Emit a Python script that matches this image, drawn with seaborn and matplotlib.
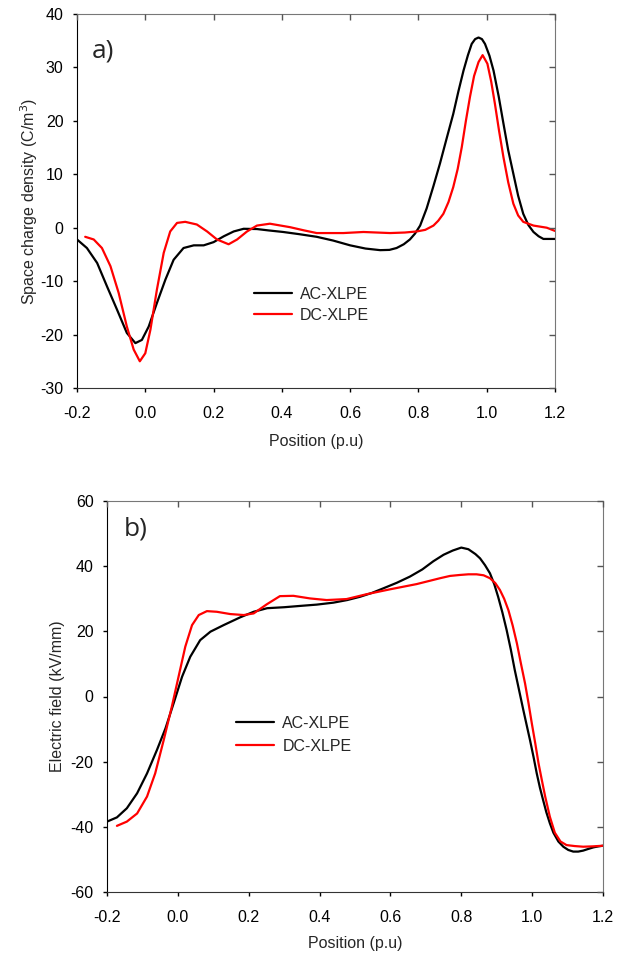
import pandas as pd
import matplotlib
matplotlib.use("Agg")
import matplotlib.pyplot as plt
import seaborn as sns

# --- a) space charge density (C/m^3) vs position (p.u) ---
ac_rho_x = [-0.2, -0.171, -0.141, -0.112, -0.083, -0.054, -0.029, -0.01, 0.01, 0.034, 0.059,
            0.083, 0.112, 0.142, 0.171, 0.2, 0.23, 0.259, 0.288, 0.327, 0.36, 0.404, 0.45,
            0.502, 0.55, 0.6, 0.645, 0.688, 0.715, 0.736, 0.757, 0.775, 0.79, 0.805, 0.824,
            0.844, 0.863, 0.883, 0.902, 0.917, 0.932, 0.945, 0.956, 0.966, 0.976, 0.986,
            0.995, 1.008, 1.02, 1.035, 1.049, 1.063, 1.078, 1.092, 1.107, 1.122, 1.137,
            1.152, 1.166, 1.183, 1.2]
ac_rho_y = [-2.2, -3.8, -6.6, -11.0, -15.3, -19.7, -21.6, -21.0, -18.5, -14.1, -9.7,
            -6.0, -3.8, -3.3, -3.3, -2.7, -1.6, -0.7, -0.2, -0.25, -0.5, -0.8, -1.2,
            -1.7, -2.4, -3.3, -3.9, -4.2, -4.15, -3.8, -3.1, -2.2, -1.1, 0.4, 3.6,
            7.8, 12.0, 16.8, 21.3, 25.5, 29.4, 32.3, 34.4, 35.3, 35.6, 35.3,
            34.4, 32.2, 29.4, 24.6, 19.5, 14.5, 10.1, 6.0, 2.6, 0.5, -0.8,
            -1.6, -2.1, -2.1, -2.1]

dc_rho_x = [-0.176, -0.151, -0.127, -0.102, -0.078, -0.054, -0.034, -0.016, 0.0, 0.015,
            0.034, 0.054, 0.073, 0.093, 0.117, 0.151, 0.181, 0.21, 0.244, 0.269, 0.298,
            0.327, 0.365, 0.424, 0.465, 0.502, 0.58, 0.639, 0.717, 0.76, 0.795, 0.82,
            0.844, 0.858, 0.873, 0.888, 0.902, 0.915, 0.927, 0.939, 0.951, 0.963, 0.976,
            0.988, 1.002, 1.013, 1.024, 1.036, 1.049, 1.063, 1.078, 1.092, 1.107, 1.137,
            1.176, 1.2]
dc_rho_y = [-1.7, -2.2, -3.8, -7.2, -12.2, -18.5, -22.8, -25.0, -23.5, -19.1,
            -11.6, -4.7, -0.7, 0.9, 1.1, 0.6, -0.7, -2.2, -3.1, -2.2, -0.7,
            0.4, 0.75, 0.1, -0.5, -1.0, -1.0, -0.8, -1.0, -0.9, -0.7, -0.4,
            0.4, 1.3, 2.6, 4.8, 7.6, 11.0, 15.1, 20.0, 24.5, 28.4, 31.0,
            32.3, 30.7, 27.4, 23.2, 18.2, 13.2, 8.5, 4.5, 2.3, 1.1, 0.4,
            0.0, -0.6]

# --- b) electric field (kV/mm) vs position (p.u) ---
ac_e_x = [-0.2, -0.172, -0.144, -0.115, -0.087, -0.059, -0.035, -0.012, 0.012, 0.035, 0.063,
          0.092, 0.129, 0.176, 0.214, 0.252, 0.3, 0.345, 0.392, 0.439, 0.478, 0.514, 0.548,
          0.58, 0.618, 0.655, 0.69, 0.721, 0.75, 0.776,
          0.8, 0.82, 0.84, 0.853, 0.867, 0.881, 0.893, 0.904, 0.916, 0.928,
          0.94, 0.951, 0.963, 0.975, 0.985, 0.994, 1.004, 1.013, 1.022, 1.031,
          1.04, 1.05, 1.06, 1.074, 1.088, 1.102, 1.116, 1.13, 1.144, 1.158,
          1.173, 1.187, 1.2]
ac_e_y = [-38.4, -37.1, -34.3, -29.7, -23.6, -16.4, -9.8, -2.1, 6.1, 12.2, 17.3,
          19.9, 21.9, 24.3, 26.0, 27.1, 27.4, 27.8, 28.2, 28.8, 29.6, 30.6, 31.8,
          33.2, 34.9, 36.8, 39.0, 41.5, 43.5, 44.8,
          45.7, 45.2, 43.7, 42.4, 40.3, 37.8, 34.5, 30.6, 25.8, 20.4,
          14.3, 8.1, 2.0, -4.1, -9.0, -13.4, -18.6, -23.6, -28.0, -31.8,
          -35.5, -38.9, -41.8, -44.5, -46.1, -47.1, -47.6, -47.6, -47.3, -46.8,
          -46.3, -46.0, -45.8]

dc_e_x = [-0.172, -0.144, -0.115, -0.087, -0.064, -0.04, -0.017, 0.002, 0.021, 0.04, 0.059,
          0.082, 0.11, 0.148, 0.186, 0.214, 0.251, 0.288, 0.326, 0.373, 0.42, 0.476, 0.533,
          0.599, 0.674, 0.74, 0.768, 0.796, 0.82, 0.843,
          0.863, 0.881, 0.896, 0.909, 0.921, 0.933, 0.945, 0.957, 0.968, 0.98,
          0.99, 0.999, 1.009, 1.018, 1.028, 1.037, 1.05, 1.064, 1.08, 1.097,
          1.12, 1.144, 1.17, 1.2]
dc_e_y = [-39.7, -38.4, -35.9, -30.7, -23.6, -13.4, -3.1, 6.1, 15.3, 21.9, 25.0,
          26.2, 26.0, 25.3, 25.0, 25.5, 28.3, 30.8, 30.9, 30.1, 29.6, 29.9, 31.4,
          32.9, 34.5, 36.3, 37.0, 37.3, 37.5, 37.5,
          37.2, 36.3, 34.8, 32.7, 30.0, 26.5, 21.8, 16.3, 10.3, 4.0,
          -2.2, -8.2, -14.5, -20.5, -26.0, -30.8, -36.9, -41.8, -44.5, -45.6,
          -45.9, -46.1, -46.0, -45.8]

labels = ["AC-XLPE", "DC-XLPE"]
colors = {"AC-XLPE": "black", "DC-XLPE": "#ff0000"}
xticks = [-0.2, 0.0, 0.2, 0.4, 0.6, 0.8, 1.0, 1.2]
FS = 11.5


def make_frame(ac_x, ac_y, dc_x, dc_y):
    ac = pd.DataFrame({"x": ac_x, "y": ac_y, "sample": labels[0]})
    dc = pd.DataFrame({"x": dc_x, "y": dc_y, "sample": labels[1]})
    return pd.concat([ac, dc], ignore_index=True)


def style_axes(fig, ax, yticks):
    ax.set_xlim(-0.2, 1.2)
    ax.set_ylim(yticks[0], yticks[-1])
    ax.set_xticks(xticks)
    ax.set_xticklabels([f"{t:.1f}" for t in xticks])
    ax.set_yticks(yticks)
    ax.tick_params(axis="both", direction="out", length=3.2, width=1,
                   labelsize=FS, colors="black", top=False, right=False)
    ax.tick_params(axis="x", pad=10)
    ax.tick_params(axis="y", pad=6.5)
    ax.spines["left"].set_color("black")
    ax.spines["bottom"].set_color("#333333")
    ax.spines["top"].set_color("#777777")
    ax.spines["right"].set_color("#777777")
    # SigmaPlot style: inward ticks on top and right, no labels
    ov = fig.add_axes(ax.get_position(), sharex=ax, sharey=ax)
    ov.patch.set_visible(False)
    for s in ov.spines.values():
        s.set_visible(False)
    ov.tick_params(direction="in", length=4.2, width=1, colors="#555555",
                   bottom=False, left=False, top=True, right=True,
                   labelbottom=False, labelleft=False, labeltop=False, labelright=False)


sns.set_style("ticks")
plt.rcParams["font.family"] = ["Liberation Sans", "DejaVu Sans"]
plt.rcParams["axes.unicode_minus"] = False
plt.rcParams["lines.solid_joinstyle"] = "round"

fig = plt.figure(figsize=(6.27, 9.59), dpi=100)

# top panel
ax1 = fig.add_axes([77 / 627, 1 - 388 / 959, 478 / 627, 374 / 959])
df_rho = make_frame(ac_rho_x, ac_rho_y, dc_rho_x, dc_rho_y)
sns.lineplot(data=df_rho, x="x", y="y", hue="sample", palette=colors, sort=False,
             linewidth=1.6, ax=ax1)
style_axes(fig, ax1, list(range(-30, 41, 10)))
ax1.set_xlabel("Position (p.u)", fontsize=FS, labelpad=9)
ax1.set_ylabel("Space charge density (C/m$^3$)", fontsize=FS, labelpad=0)
ax1.text(0.031, 0.935, "a)", transform=ax1.transAxes, fontsize=19, family="Open Sans",
         va="top")
ax1.legend(title=None, frameon=False, loc="upper left", bbox_to_anchor=(0.37, 0.27),
           fontsize=FS, handlelength=2.4, handletextpad=0.5, labelspacing=0.35,
           borderpad=0, borderaxespad=0)

# bottom panel
ax2 = fig.add_axes([107 / 627, 1 - 892 / 959, 496 / 627, 391 / 959])
df_e = make_frame(ac_e_x, ac_e_y, dc_e_x, dc_e_y)
sns.lineplot(data=df_e, x="x", y="y", hue="sample", palette=colors, sort=False,
             linewidth=1.6, ax=ax2)
style_axes(fig, ax2, list(range(-60, 61, 20)))
ax2.set_xlabel("Position (p.u)", fontsize=FS, labelpad=8)
ax2.set_ylabel("Electric field (kV/mm)", fontsize=FS, labelpad=3.5)
ax2.text(0.034, 0.96, "b)", transform=ax2.transAxes, fontsize=19, family="Open Sans",
         va="top")
ax2.legend(title=None, frameon=False, loc="upper left", bbox_to_anchor=(0.26, 0.45),
           fontsize=FS, handlelength=2.4, handletextpad=0.5, labelspacing=0.5,
           borderpad=0, borderaxespad=0)

fig.savefig("out.png", dpi=100)
